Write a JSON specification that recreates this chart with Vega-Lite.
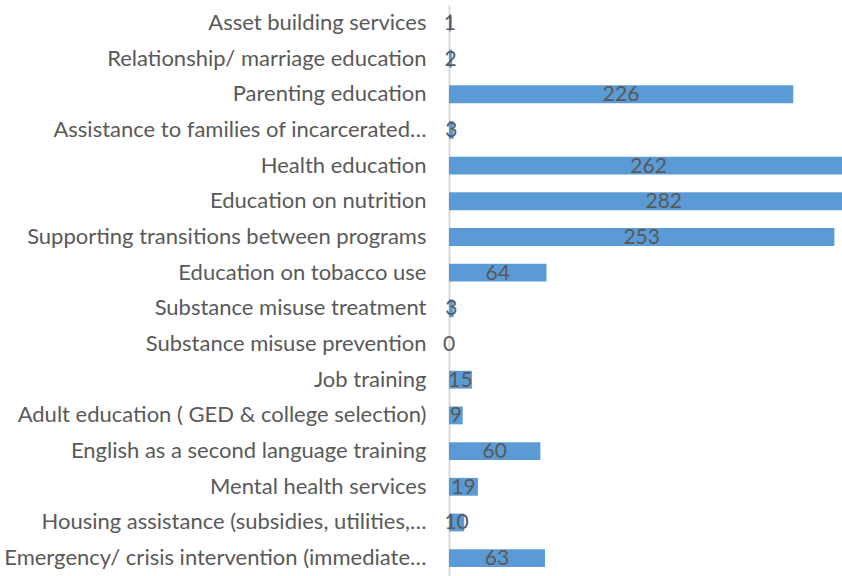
{
  "$schema": "https://vega.github.io/schema/vega-lite/v6.json",
  "autosize": "none",
  "padding": {"left": 449, "top": 5, "right": 0, "bottom": 0},
  "width": 393,
  "height": 571,
  "background": "white",
  "config": {"view": {"stroke": null}, "font": "Lato"},
  "data": {"values": [
    {"service": "Asset building services", "count": 1},
    {"service": "Relationship/ marriage education", "count": 2},
    {"service": "Parenting education", "count": 226},
    {"service": "Assistance to families of incarcerated…", "count": 3},
    {"service": "Health education", "count": 262},
    {"service": "Education on nutrition", "count": 282},
    {"service": "Supporting transitions between programs", "count": 253},
    {"service": "Education on tobacco use", "count": 64},
    {"service": "Substance misuse treatment", "count": 3},
    {"service": "Substance misuse prevention", "count": 0},
    {"service": "Job training", "count": 15},
    {"service": "Adult education ( GED & college selection)", "count": 9},
    {"service": "English as a second language training", "count": 60},
    {"service": "Mental health services", "count": 19},
    {"service": "Housing assistance (subsidies, utilities,…", "count": 10},
    {"service": "Emergency/ crisis intervention (immediate…", "count": 63}
  ]},
  "encoding": {
    "y": {
      "field": "service", "type": "nominal", "sort": null,
      "scale": {"paddingInner": 0.5, "paddingOuter": 0.25},
      "axis": {
        "title": null, "ticks": false, "labelPadding": 23,
        "labelFont": "Lato", "labelFontSize": 22, "labelColor": "#595959",
        "labelLimit": 0, "domainColor": "#d9d9d9", "domainWidth": 2
      }
    }
  },
  "layer": [
    {
      "mark": {"type": "bar", "color": "#5b9bd5", "clip": true},
      "encoding": {
        "x": {"field": "count", "type": "quantitative", "scale": {"domain": [0, 258], "nice": false}, "axis": null}
      }
    },
    {
      "mark": {"type": "text", "font": "Lato", "fontSize": 21, "color": "#595959", "align": "center", "baseline": "middle", "dy": 1},
      "encoding": {
        "x": {"field": "count", "type": "quantitative", "scale": {"domain": [0, 516], "nice": false}, "axis": null},
        "text": {"field": "count", "type": "quantitative"}
      }
    }
  ],
  "resolve": {"scale": {"x": "independent"}}
}
